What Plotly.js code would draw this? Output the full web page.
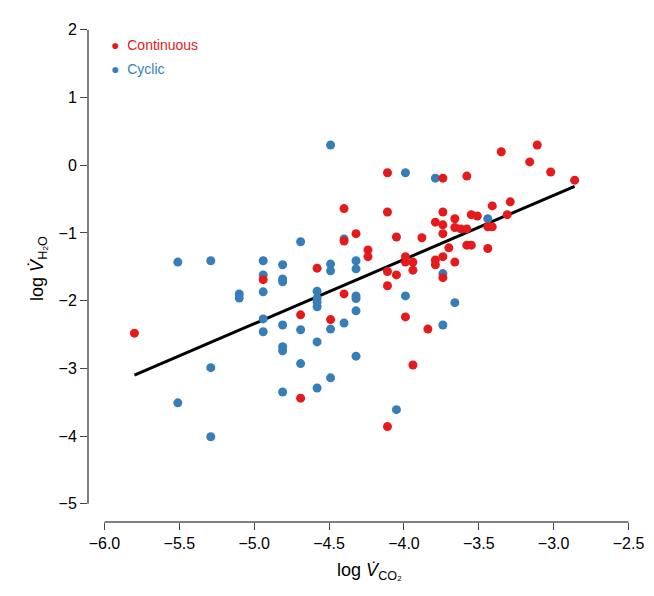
<!DOCTYPE html>
<html><head><meta charset="utf-8">
<script src="https://cdn.plot.ly/plotly-3.0.1.min.js"></script>
<style>body{margin:0}</style></head><body>
<div id="c" style="width:654px;height:596px"></div>
<script>
const contX=[-5.80,-4.40,-4.32,-4.40,-4.24,-4.24,-4.58,-4.94,-4.40,-4.69,-4.49,-4.69,-4.11,-3.74,-3.58,-3.35,-3.11,-3.16,-3.02,-2.86,-4.11,-3.74,-3.79,-3.74,-3.66,-3.74,-3.66,-3.62,-3.58,-3.55,-3.51,-3.41,-3.29,-3.31,-3.44,-3.41,-4.05,-3.88,-3.70,-3.58,-3.55,-3.44,-3.99,-3.99,-3.94,-3.94,-3.79,-3.79,-3.74,-3.66,-4.11,-4.05,-4.11,-3.74,-3.99,-3.84,-3.94,-4.11];
const contY=[-2.48,-0.64,-1.01,-1.12,-1.25,-1.35,-1.52,-1.69,-1.90,-2.21,-2.28,-3.44,-0.11,-0.19,-0.16,0.20,0.30,0.05,-0.10,-0.22,-0.69,-0.69,-0.84,-0.88,-0.79,-1.01,-0.92,-0.94,-0.94,-0.73,-0.75,-0.60,-0.54,-0.73,-0.91,-0.91,-1.06,-1.07,-1.22,-1.18,-1.18,-1.23,-1.35,-1.43,-1.43,-1.55,-1.40,-1.47,-1.35,-1.43,-1.57,-1.62,-1.78,-1.66,-2.24,-2.42,-2.95,-3.86];
const cycX=[-4.49,-5.51,-5.29,-4.94,-4.81,-4.69,-4.94,-4.81,-4.81,-5.10,-5.10,-4.94,-4.49,-4.49,-4.40,-4.32,-4.32,-4.58,-4.58,-4.58,-4.58,-4.32,-4.32,-4.32,-4.94,-4.94,-4.81,-4.69,-4.58,-4.49,-4.40,-4.81,-4.81,-4.69,-4.32,-5.29,-4.49,-4.58,-4.81,-5.51,-5.29,-3.99,-3.79,-3.44,-3.74,-3.99,-3.66,-3.74,-4.05];
const cycY=[0.30,-1.43,-1.41,-1.41,-1.47,-1.13,-1.62,-1.68,-1.72,-1.90,-1.96,-1.87,-1.46,-1.56,-1.09,-1.41,-1.53,-1.86,-1.96,-2.02,-2.09,-1.93,-1.97,-2.15,-2.27,-2.46,-2.36,-2.43,-2.61,-2.42,-2.33,-2.68,-2.74,-2.93,-2.82,-2.99,-3.14,-3.29,-3.35,-3.51,-4.01,-0.11,-0.19,-0.79,-1.60,-1.93,-2.03,-2.36,-3.61];
const fitX=[-5.80,-2.86];
const fitY=[-3.10,-0.31];
const xTicks=[-6.0,-5.5,-5.0,-4.5,-4.0,-3.5,-3.0,-2.5];
const yTicks=[2,1,0,-1,-2,-3,-4,-5];
const red='#e41a1c', blue='#377eb8';
const traces=[
 {x:fitX,y:fitY,mode:'lines',line:{color:'black',width:3},hoverinfo:'skip'},
 {x:cycX,y:cycY,mode:'markers',marker:{color:blue,size:9}},
 {x:contX,y:contY,mode:'markers',marker:{color:red,size:9}}
];
const font={family:'Liberation Sans, Arial, sans-serif',size:16,color:'#000'};
const layout={
 width:654,height:596,showlegend:false,plot_bgcolor:'white',paper_bgcolor:'white',
 margin:{l:88,r:3,t:15,b:74},font:font,
 xaxis:{range:[-6.11,-2.35],tickvals:xTicks,ticktext:xTicks.map(v=>v.toFixed(1).replace('-','−')),ticks:'outside',ticklen:7,tickwidth:1,showgrid:false,zeroline:false,showline:false,
   title:{text:'log <i>V̇</i><sub>CO₂</sub>',font:{size:18},standoff:12}},
 yaxis:{range:[-5.27,2.22],tickvals:yTicks,ticktext:yTicks.map(v=>String(v).replace('-','−')),ticks:'outside',ticklen:7,tickwidth:1,showgrid:false,zeroline:false,showline:false,
   title:{text:'log <i>V̇</i><sub>H₂O</sub>',font:{size:18},standoff:10}},
 shapes:[
  {type:'line',xref:'x',yref:'paper',x0:-6,x1:-2.5,y0:0,y1:0,line:{color:'black',width:1}},
  {type:'line',xref:'paper',yref:'y',x0:0,x1:0,y0:-5,y1:2,line:{color:'black',width:1}}
 ],
 annotations:[
  {xref:'paper',yref:'paper',x:0.038,y:0.941,xanchor:'left',yanchor:'middle',showarrow:false,text:'●  Continuous',font:{size:14,color:red,family:font.family}},
  {xref:'paper',yref:'paper',x:0.038,y:0.893,xanchor:'left',yanchor:'middle',showarrow:false,text:'●  Cyclic',font:{size:14,color:blue,family:font.family}}
 ]
};
Plotly.newPlot('c',traces,layout,{displayModeBar:false});
</script></body></html>
